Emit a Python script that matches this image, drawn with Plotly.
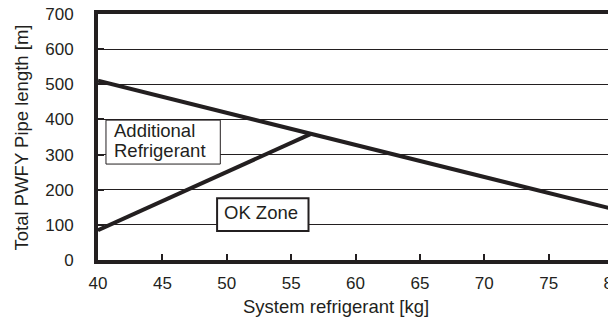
import plotly.graph_objects as go

upper_x = [40, 80]
upper_y = [510, 145]
lower_x = [40, 56.5]
lower_y = [85, 358]
x_ticks = [40, 45, 50, 55, 60, 65, 70, 75, 80]
y_ticks = [0, 100, 200, 300, 400, 500, 600, 700]

INK = "#231f20"
FAM = "Liberation Sans, Arial, sans-serif"

fig = go.Figure()
fig.add_trace(go.Scatter(x=upper_x, y=upper_y, mode="lines",
                         line=dict(color=INK, width=4), showlegend=False))
fig.add_trace(go.Scatter(x=lower_x, y=lower_y, mode="lines",
                         line=dict(color=INK, width=4), showlegend=False))

# label boxes
fig.add_shape(type="rect", xref="x", yref="y", x0=40.62, x1=49.5, y0=273, y1=398,
              line=dict(color=INK, width=1), fillcolor="white", layer="above")
fig.add_shape(type="rect", xref="x", yref="y", x0=49.25, x1=56.35, y0=82.5, y1=176,
              line=dict(color=INK, width=2), fillcolor="white", layer="above")

afont = dict(family=FAM, size=18.5, color=INK)
fig.add_annotation(x=41.05, y=368.5, xref="x", yref="y", xanchor="left", yanchor="middle",
                   text="Additional", showarrow=False, font=afont)
fig.add_annotation(x=41.05, y=311.5, xref="x", yref="y", xanchor="left", yanchor="middle",
                   text="Refrigerant", showarrow=False, font=afont)
fig.add_annotation(x=52.66, y=134, xref="x", yref="y", xanchor="center", yanchor="middle",
                   text="OK Zone", showarrow=False, font=afont)

# axis titles
fig.add_annotation(x=0.4626, y=-0.191, xref="paper", yref="paper",
                   xanchor="center", yanchor="middle", showarrow=False,
                   text="System refrigerant [kg]", font=afont)
fig.add_annotation(x=-0.1487, y=0.5, xref="paper", yref="paper",
                   xanchor="center", yanchor="middle", showarrow=False, textangle=-90,
                   text="Total PWFY Pipe length [m]", font=afont)

fig.update_layout(
    width=616, height=322,
    margin=dict(l=90, r=11, t=6, b=70),
    paper_bgcolor="white", plot_bgcolor="white",
    font=dict(family=FAM, size=15, color=INK),
)
fig.update_xaxes(range=[40, 80], tickvals=x_ticks, ticks="inside", ticklen=6,
                 tickcolor=INK, tickwidth=1.5, showgrid=False, zeroline=False,
                 showline=True, linecolor=INK, linewidth=4, mirror=True,
                 automargin=False, ticklabeloverflow="allow",
                 tickfont=dict(family=FAM, size=17, color=INK), ticklabelstandoff=5)
fig.update_yaxes(range=[0, 700], tickvals=y_ticks, ticks="inside", ticklen=6,
                 tickcolor=INK, tickwidth=1.5, showgrid=True, gridcolor=INK,
                 gridwidth=1.3, zeroline=False,
                 showline=True, linecolor=INK, linewidth=4, mirror=True,
                 automargin=False, ticklabeloverflow="allow",
                 tickfont=dict(family=FAM, size=17, color=INK), ticklabelstandoff=17)

fig.write_html("out.html")
